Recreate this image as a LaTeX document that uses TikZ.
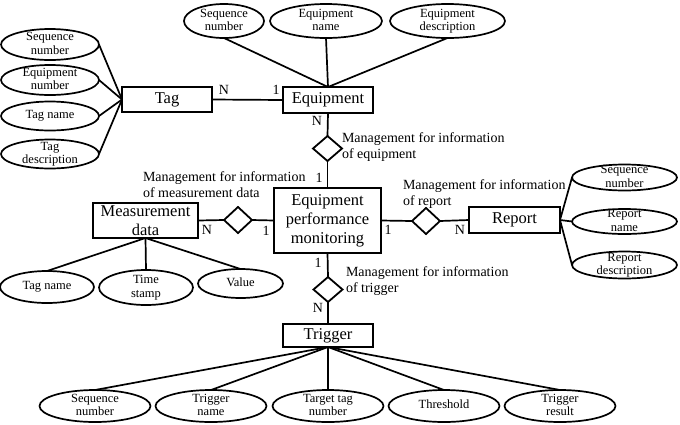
\documentclass[tikz,border=0pt]{standalone}
\usepackage{fontspec}
\setmainfont{Liberation Serif}
\usetikzlibrary{shapes.geometric}
\newcommand{\ET}[1]{\raisebox{-0.25em}[0pt][0pt]{\makebox[0pt]{\begin{tabular}{@{}c@{}}#1\end{tabular}}}}
\begin{document}
\begin{tikzpicture}[x=1pt,y=-1pt,
  every node/.style={inner sep=0pt, outer sep=0pt},
  ent/.style={draw, line width=1.8pt, rectangle, align=center, font=\fontsize{16.5}{19}\selectfont},
  attr/.style={draw, line width=1.7pt, ellipse, font=\fontsize{12.5}{13.5}\selectfont},
  rel/.style={draw, line width=1.8pt, diamond, minimum width=28pt, minimum height=26pt},
  card/.style={font=\fontsize{14}{16}\selectfont},
  lab/.style={align=left, anchor=west, font=\fontsize{14}{16}\selectfont},
  conn/.style={line width=1.7pt}]
\useasboundingbox (0,0) rectangle (680,424);

% entities
\node[ent, minimum width=90pt, minimum height=25pt] (tag) at (167,99.5) {Tag};
\node[ent, minimum width=90pt, minimum height=26pt] (equip) at (328,100) {Equipment};
\node[ent, minimum width=107pt, minimum height=65pt] (epm) at (327.5,220.5) {Equipment\\performance\\monitoring};
\node[ent, minimum width=105pt, minimum height=35pt] (md) at (145.5,220.5) {Measurement\\data};
\node[ent, minimum width=91pt, minimum height=26pt] (report) at (514.5,220) {Report};
\node[ent, minimum width=90pt, minimum height=23pt] (trig) at (328,335.5) {Trigger};

% relationships
\node[rel, minimum width=29pt, minimum height=25pt] (d1) at (327.5,148.5) {};
\node[rel] (d2) at (238,220) {};
\node[rel, minimum width=29pt, minimum height=25pt] (d3) at (328,289.5) {};
\node[rel] (d4) at (426,221) {};

% tag attributes
\node[attr, minimum width=98pt, minimum height=31pt] (t1) at (50,44.5) {\ET{Sequence\\number}};
\node[attr, minimum width=98pt, minimum height=30pt] (t2) at (50,80) {\ET{Equipment\\number}};
\node[attr, minimum width=98pt, minimum height=29pt] (t3) at (50,116) {\ET{Tag name}};
\node[attr, minimum width=98pt, minimum height=29pt] (t4) at (50,154) {\ET{Tag\\description}};

% equipment attributes
\node[attr, minimum width=80pt, minimum height=34pt] (e1) at (224,21) {\ET{Sequence\\number}};
\node[attr, minimum width=112pt, minimum height=34pt] (e2) at (326,21) {\ET{Equipment\\name}};
\node[attr, minimum width=115pt, minimum height=34pt] (e3) at (447.5,21) {\ET{Equipment\\description}};

% report attributes
\node[attr, minimum width=105pt, minimum height=26pt] (r1) at (624.5,177.5) {\ET{Sequence\\number}};
\node[attr, minimum width=105pt, minimum height=25pt] (r2) at (624.5,221.5) {\ET{Report\\name}};
\node[attr, minimum width=105pt, minimum height=27pt] (r3) at (624.5,265) {\ET{Report\\description}};

% measurement data attributes
\node[attr, minimum width=94pt, minimum height=32pt] (m1) at (47,287) {\ET{Tag name}};
\node[attr, minimum width=94pt, minimum height=35pt] (m2) at (146,287.5) {\ET{Time\\stamp}};
\node[attr, minimum width=85pt, minimum height=29pt] (m3) at (240.5,283.5) {\ET{Value}};

% trigger attributes
\node[attr, minimum width=111pt, minimum height=32pt] (b1) at (95,406) {\ET{Sequence\\number}};
\node[attr, minimum width=111pt, minimum height=32pt] (b2) at (211,406) {\ET{Trigger\\name}};
\node[attr, minimum width=111pt, minimum height=32pt] (b3) at (328,406) {\ET{Target tag\\number}};
\node[attr, minimum width=111pt, minimum height=32pt] (b4) at (444,406) {\ET{Threshold}};
\node[attr, minimum width=111pt, minimum height=32pt] (b5) at (560,406) {\ET{Trigger\\result}};

% connectors
\draw[conn] (t1.east) -- (tag.west);
\draw[conn] (t2.east) -- (tag.west);
\draw[conn] (t3.east) -- (tag.west);
\draw[conn] (t4.east) -- (tag.west);
\draw[conn] (e1.south) -- (equip.north);
\draw[conn] (e2.south) -- (equip.north);
\draw[conn] (e3.south) -- (equip.north);
\draw[conn] (tag.east) -- (equip.west);
\draw[conn] (equip.south) -- (d1.north);
\draw[conn] (d1.south) -- (epm.north);
\draw[conn] (md.east) -- (d2.west);
\draw[conn] (d2.east) -- (epm.west);
\draw[conn] (epm.south) -- (d3.north);
\draw[conn] (d3.south) -- (trig.north);
\draw[conn] (epm.east) -- (d4.west);
\draw[conn] (d4.east) -- (report.west);
\draw[conn] (report.east) -- (r1.west);
\draw[conn] (report.east) -- (r2.west);
\draw[conn] (report.east) -- (r3.west);
\draw[conn] (md.south) -- (m1.north);
\draw[conn] (md.south) -- (m2.north);
\draw[conn] (md.south) -- (m3.north);
\draw[conn] (trig.south) -- (b1.north);
\draw[conn] (trig.south) -- (b2.north);
\draw[conn] (trig.south) -- (b3.north);
\draw[conn] (trig.south) -- (b4.north);
\draw[conn] (trig.south) -- (b5.north);

% cardinalities
\node[card] (c1) at (224,90) {N};
\node[card] (c2) at (276,90) {1};
\node[card] (c3) at (317,121) {N};
\node[card] (c4) at (319,178) {1};
\node[card] (c5) at (207,230) {N};
\node[card] (c6) at (266,231) {1};
\node[card] (c7) at (318,263) {1};
\node[card] (c8) at (318,308) {N};
\node[card] (c9) at (388,230) {1};
\node[card] (c10) at (460,230) {N};

% relationship labels
\node[lab] (l1) at (342,147) {Management for information\\of equipment};
\node[lab] (l2) at (143,185) {Management for information\\of measurement data};
\node[lab] (l3) at (403,194.5) {Management for information\\of report};
\node[lab] (l4) at (346,281.5) {Management for information\\of trigger};
\end{tikzpicture}
\end{document}
